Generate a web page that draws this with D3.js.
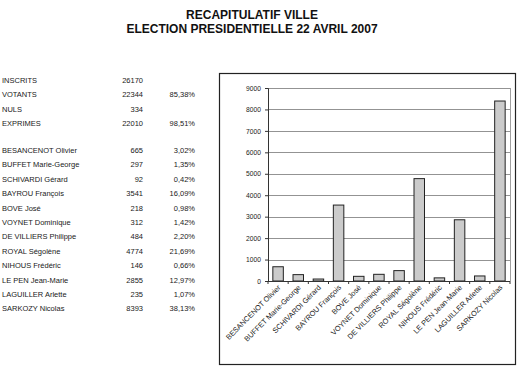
<!DOCTYPE html>
<html>
<head>
<meta charset="utf-8">
<script src="https://cdn.jsdelivr.net/npm/d3@7"></script>
<style>
  body { margin: 0; background: #fff; }
  svg { font-family: "Liberation Sans", Arial, sans-serif; }
</style>
</head>
<body>
<script>
// summary rows (left table, top block)
var summaryLabels = ['INSCRITS', 'VOTANTS', 'NULS', 'EXPRIMES'];
var summaryValues = [26170, 22344, 334, 22010];
var summaryPct = ['', '85,38%', '', '98,51%'];

// candidates
var candidates = ['BESANCENOT Olivier', 'BUFFET Marie-George', 'SCHIVARDI Gérard', 'BAYROU François',
  'BOVE José', 'VOYNET Dominique', 'DE VILLIERS Philippe', 'ROYAL Ségolène',
  'NIHOUS Frédéric', 'LE PEN Jean-Marie', 'LAGUILLER Arlette', 'SARKOZY Nicolas'];
var votes = [665, 297, 92, 3541, 218, 312, 484, 4774, 146, 2855, 235, 8393];
var votesPct = ['3,02%', '1,35%', '0,42%', '16,09%', '0,98%', '1,42%', '2,20%', '21,69%', '0,66%', '12,97%', '1,07%', '38,13%'];
var yTicks = [0, 1000, 2000, 3000, 4000, 5000, 6000, 7000, 8000, 9000];

var W = 524, H = 373;
var svg = d3.select('body').append('svg').attr('width', W).attr('height', H);

// title
svg.append('text').attr('x', 252).attr('y', 19).attr('text-anchor', 'middle')
  .attr('font-weight', 'bold').attr('font-size', 12).attr('fill', '#111').text('RECAPITULATIF VILLE');
svg.append('text').attr('x', 252).attr('y', 33).attr('text-anchor', 'middle')
  .attr('font-weight', 'bold').attr('font-size', 12).attr('fill', '#111').text('ELECTION PRESIDENTIELLE 22 AVRIL 2007');

// left table
var rowH = 14.4;
var table = svg.append('g').attr('font-size', 7.5).attr('fill', '#1a1a1a');
function row(y, label, value, pct) {
  table.append('text').attr('x', 2).attr('y', y).text(label);
  table.append('text').attr('x', 143).attr('y', y).attr('text-anchor', 'end').text(value);
  table.append('text').attr('x', 195).attr('y', y).attr('text-anchor', 'end').text(pct);
}
summaryLabels.forEach(function (d, i) { row(83 + i * rowH, d, summaryValues[i], summaryPct[i]); });
candidates.forEach(function (d, i) { row(153 + i * rowH, d, votes[i], votesPct[i]); });

// chart box
svg.append('rect').attr('x', 219.5).attr('y', 73.5).attr('width', 296).attr('height', 291)
  .attr('fill', 'none').attr('stroke', '#222').attr('stroke-width', 1.2);

var plot = { left: 268, right: 510, top: 88, bottom: 281 };
var x = d3.scaleBand().domain(candidates).range([plot.left, plot.right]).paddingInner(0.48).paddingOuter(0.24);
var y = d3.scaleLinear().domain([0, 9000]).range([plot.bottom, plot.top]);

// gridlines
svg.append('g').selectAll('line').data(yTicks.slice(1)).join('line')
  .attr('x1', plot.left).attr('x2', plot.right)
  .attr('y1', function (d) { return Math.round(y(d)) + 0.5; })
  .attr('y2', function (d) { return Math.round(y(d)) + 0.5; })
  .attr('stroke', '#777').attr('stroke-width', 0.8);
// right edge of plot area
svg.append('line').attr('x1', plot.right + 0.5).attr('x2', plot.right + 0.5)
  .attr('y1', plot.top).attr('y2', plot.bottom).attr('stroke', '#888').attr('stroke-width', 0.8);

// y axis
var yAxis = svg.append('g').attr('transform', 'translate(' + plot.left + ',0)')
  .call(d3.axisLeft(y).tickValues(yTicks).tickFormat(d3.format('d')).tickSize(3).tickPadding(4));
yAxis.select('.domain').attr('stroke', '#333');
yAxis.selectAll('.tick line').attr('stroke', '#333');
yAxis.selectAll('text').attr('font-size', 6.7).attr('fill', '#222').attr('font-family', '"Liberation Sans", Arial, sans-serif');

// bars
svg.append('g').selectAll('rect').data(votes).join('rect')
  .attr('x', function (d, i) { return x(candidates[i]); })
  .attr('y', function (d) { return y(d); })
  .attr('width', x.bandwidth())
  .attr('height', function (d) { return y(0) - y(d); })
  .attr('fill', '#cbcbcb').attr('stroke', '#222').attr('stroke-width', 1);

// x axis with ticks between categories
var xAxis = svg.append('g');
xAxis.append('line').attr('x1', plot.left).attr('x2', plot.right)
  .attr('y1', plot.bottom + 0.5).attr('y2', plot.bottom + 0.5).attr('stroke', '#333');
xAxis.selectAll('.sep').data(d3.range(candidates.length + 1)).join('line').attr('class', 'sep')
  .attr('x1', function (d) { return plot.left + d * (plot.right - plot.left) / candidates.length; })
  .attr('x2', function (d) { return plot.left + d * (plot.right - plot.left) / candidates.length; })
  .attr('y1', plot.bottom).attr('y2', plot.bottom + 3).attr('stroke', '#333');
xAxis.selectAll('text').data(candidates).join('text')
  .attr('transform', function (d) {
    return 'translate(' + (x(d) + x.bandwidth() / 2 + 3) + ',' + (plot.bottom + 7) + ') rotate(-45)';
  })
  .attr('text-anchor', 'end').attr('font-size', 7.4).attr('fill', '#222')
  .text(function (d) { return d; });
</script>
</body>
</html>
